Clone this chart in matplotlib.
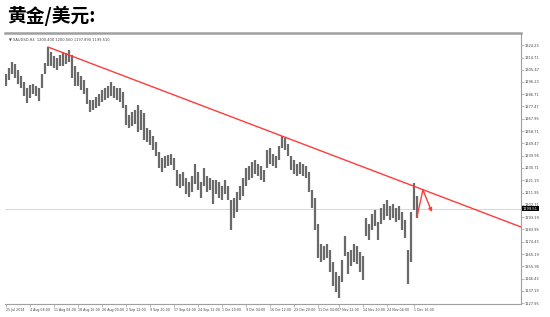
import matplotlib.pyplot as plt
import matplotlib.transforms as mtransforms

# XAUUSD H4, each entry is one bar group (high / low)
bar_high = [1302.2, 1306.8, 1311.3, 1309.8, 1305.3, 1300.7, 1296.1, 1291.6, 1293.8, 1294.6,
            1293.1, 1291.6, 1302.2, 1310.6, 1322.7, 1318.9, 1315.9, 1314.4, 1316.7, 1318.9,
            1318.2, 1320.5, 1316.7, 1308.3, 1303.7, 1300.7, 1297.6, 1291.6, 1282.4, 1282.4,
            1284.7, 1287.0, 1290.0, 1291.6, 1293.1, 1296.1, 1293.1, 1291.6, 1291.6, 1288.5,
            1278.6, 1271.0, 1273.3, 1274.8, 1278.6, 1274.8, 1272.5, 1261.1, 1259.6, 1255.0,
            1250.5, 1242.9, 1238.3, 1239.8, 1240.6, 1241.4, 1238.3, 1229.2, 1226.1, 1227.7,
            1223.1, 1220.1, 1224.6, 1233.7, 1227.7, 1220.1, 1230.7, 1224.6, 1223.1, 1221.6,
            1221.6, 1220.1, 1217.0, 1221.6, 1217.0, 1206.4, 1207.9, 1212.4, 1217.0, 1223.1,
            1230.7, 1232.2, 1235.3, 1236.8, 1233.7, 1232.2, 1229.2, 1244.4, 1245.9, 1241.4,
            1239.8, 1247.4, 1255.0, 1253.5, 1249.0, 1239.8, 1236.8, 1233.7, 1235.3, 1233.7,
            1232.2, 1227.7, 1214.0, 1207.9, 1188.1, 1172.9, 1171.4, 1172.9, 1168.3, 1159.2,
            1151.6, 1148.5, 1160.7, 1179.0, 1166.8, 1168.3, 1172.9, 1171.4, 1166.8, 1163.8,
            1192.7, 1188.1, 1195.7, 1198.8, 1189.6, 1200.3, 1203.3, 1206.4, 1201.8, 1203.3,
            1200.3, 1201.8, 1197.2, 1191.1, 1168.3, 1197.2, 1219.3, 1209.4]
bar_low = [1293.1, 1297.6, 1302.2, 1299.2, 1294.6, 1291.6, 1285.5, 1280.1, 1284.0, 1287.0,
           1285.5, 1281.7, 1291.6, 1302.2, 1308.3, 1308.3, 1306.8, 1305.3, 1308.3, 1308.3,
           1309.8, 1311.3, 1299.2, 1293.1, 1293.1, 1290.0, 1287.0, 1279.4, 1273.3, 1274.8,
           1276.3, 1277.9, 1280.9, 1282.4, 1284.0, 1285.5, 1284.0, 1282.4, 1280.9, 1276.3,
           1263.4, 1261.1, 1262.7, 1264.2, 1258.1, 1259.6, 1252.0, 1250.5, 1248.2, 1244.4,
           1239.8, 1230.7, 1227.7, 1230.7, 1232.2, 1233.0, 1229.2, 1217.0, 1215.5, 1217.0,
           1210.9, 1208.6, 1212.4, 1218.5, 1214.0, 1207.9, 1217.0, 1212.4, 1214.0, 1203.3,
           1210.9, 1207.9, 1206.4, 1210.9, 1206.4, 1183.5, 1192.7, 1197.2, 1206.4, 1209.4,
           1217.0, 1221.6, 1223.1, 1226.1, 1224.6, 1221.6, 1220.1, 1230.7, 1233.7, 1232.2,
           1230.7, 1236.8, 1245.9, 1244.4, 1239.8, 1229.2, 1226.1, 1224.6, 1226.1, 1224.6,
           1223.1, 1212.4, 1200.3, 1183.5, 1162.2, 1159.2, 1160.7, 1162.2, 1151.6, 1140.9,
           1136.4, 1131.8, 1144.0, 1163.8, 1150.1, 1156.2, 1159.2, 1157.7, 1151.6, 1145.5,
           1179.0, 1175.9, 1183.5, 1186.6, 1175.9, 1188.1, 1191.1, 1194.2, 1191.1, 1192.7,
           1189.6, 1191.1, 1183.5, 1177.5, 1142.5, 1159.2, 1198.8, 1192.7]

date_labels = ['25 Jul 2014', '4 Aug 08:00', '11 Aug 08:00', '18 Aug 16:00', '26 Aug 00:00',
               '2 Sep 12:00', '9 Sep 20:00', '17 Sep 04:00', '24 Sep 12:00', '1 Oct 20:00',
               '9 Oct 04:00', '16 Oct 12:00', '23 Oct 20:00', '31 Oct 04:00', '7 Nov 12:00',
               '14 Nov 20:00', '24 Nov 04:00', '1 Dec 16:00']
date_pos = [0, 8, 16, 24, 32, 40, 48, 56, 64, 72, 80, 88, 96, 104, 111, 119, 127, 136]

price_labels = ['1324.23', '1314.71', '1305.47', '1296.23', '1286.71', '1277.47', '1267.95',
                '1258.71', '1249.47', '1239.95', '1230.71', '1221.19', '1211.95', '1202.71',
                '1193.19', '1183.95', '1174.43', '1165.19', '1155.95', '1146.43', '1137.19',
                '1127.95']

last_price = 1199.51
trend_x = [14, 171.7]
trend_y = [1322.7, 1185.8]
arrow_x = [137, 139, 142]
arrow_y = [1193.4, 1214.0, 1197.2]

fig = plt.figure(figsize=(5.5, 3.17), dpi=100)
ax = fig.add_axes([5 / 550, 0.041, 0.938, 0.855])

# bars
xs = list(range(len(bar_high)))
ax.vlines(xs, bar_low, bar_high, color='#6a6a6a', linewidth=1.6)

# current price line
ax.axhline(last_price, color='#d0d0d0', linewidth=0.6, zorder=0)

# trendline and the red arrow
ax.plot(trend_x, trend_y, color='#ff3b3b', linewidth=1.0, clip_on=False)
ax.plot(arrow_x[:2], arrow_y[:2], color='#ff3b3b', linewidth=1.0)
ax.annotate('', xy=(arrow_x[2], arrow_y[2]), xytext=(arrow_x[1], arrow_y[1]),
            arrowprops=dict(arrowstyle='-|>', color='#ff3b3b', lw=1.0,
                            mutation_scale=5, shrinkA=0, shrinkB=0))

ax.set_xlim(-0.33, 171.67)
ax.set_ylim(1127.2, 1333.4)

ax.set_xticks(date_pos)
ax.set_xticklabels(date_labels, fontsize=2.3, color='#444444', ha='left')
ax.set_yticks([float(p) for p in price_labels])
ax.set_yticklabels(price_labels, fontsize=2.6, color='#444444')
ax.yaxis.tick_right()
ax.tick_params(axis='both', length=2, width=0.4, color='#888888', pad=1)

ax.spines['left'].set_visible(False)
ax.spines['top'].set_color('#a0a0a0')
ax.spines['top'].set_linewidth(1.8)
ax.spines['right'].set_color('#a0a0a0')
ax.spines['right'].set_linewidth(0.8)
ax.spines['bottom'].set_color('#a0a0a0')
ax.spines['bottom'].set_linewidth(0.8)

# price box on the right axis
trans = mtransforms.blended_transform_factory(ax.transAxes, ax.transData)
ax.text(1.004, last_price, '%.2f' % last_price, transform=trans, fontsize=2.6,
        color='white', va='center', ha='left',
        bbox=dict(boxstyle='square,pad=0.15', facecolor='black', edgecolor='none'))

ax.text(0.008, 0.985, '\u25bc XAUUSD,H4  1200.400 1200.560 1197.890 1199.510',
        transform=ax.transAxes, fontsize=2.6, color='#444444', va='top', ha='left')

fig.text(7 / 550, 1 - 16 / 317, '黄金/美元:', fontsize=13.5, fontweight='bold',
         family=['Noto Sans CJK SC', 'DejaVu Sans'], va='center', ha='left')

fig.savefig('out.png', dpi=100)
